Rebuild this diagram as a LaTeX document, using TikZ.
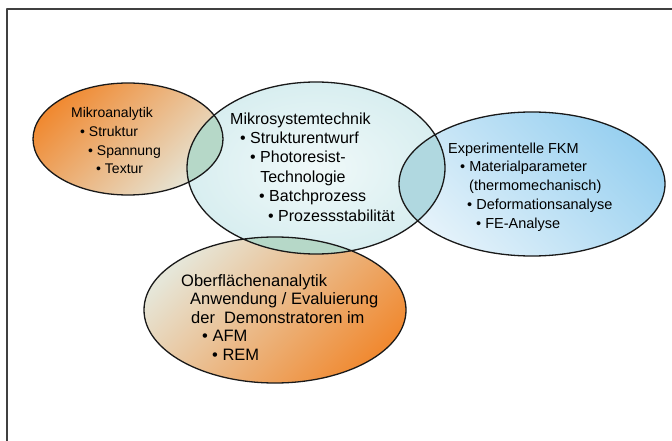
\documentclass[tikz,border=0pt]{standalone}
\usepackage{fontspec}
\setmainfont{Liberation Sans}

\definecolor{orangedeep}{HTML}{F08A32}
\definecolor{orangepale}{HTML}{E6E6D8}
\definecolor{mstpale}{HTML}{D8EEF0}
\definecolor{mstlight}{HTML}{F0F9F9}
\definecolor{fkmblue}{HTML}{98D0F0}
\definecolor{fkmpale}{HTML}{E4F2FA}
\definecolor{lensgreen}{HTML}{B6D8C8}
\definecolor{lensblue}{HTML}{B0D8E0}
\definecolor{framegray}{HTML}{404040}

\begin{document}
\begin{tikzpicture}[x=1pt,y=-1pt,line join=round]
\tikzset{
  ring/.style={draw=black!90, line width=1.3pt},
  lbl/.style={anchor=base west, align=left, inner sep=0pt},
}
\useasboundingbox (0,0) rectangle (672,441);
% frame, only left and top edge show
\draw[framegray, line width=1.5pt] (7,441) |- (672,9);

% fills
\shade[top color=orangedeep, bottom color=orangepale, shading angle=45]
  (128,139) ellipse [x radius=95, y radius=56];
\shade[inner color=mstlight, outer color=mstpale]
  (316,168) ellipse [x radius=129, y radius=86];
\shade[top color=fkmblue, bottom color=fkmpale, shading angle=-45]
  (532,184) ellipse [x radius=133, y radius=72];
\shade[top color=orangepale, bottom color=orangedeep, shading angle=45]
  (275,310) ellipse [x radius=131, y radius=73];

% overlaps
\begin{scope}
  \clip (128,139) ellipse [x radius=95, y radius=56];
  \fill[lensgreen] (316,168) ellipse [x radius=129, y radius=86];
\end{scope}
\begin{scope}
  \clip (532,184) ellipse [x radius=133, y radius=72];
  \fill[lensblue] (316,168) ellipse [x radius=129, y radius=86];
\end{scope}
\begin{scope}
  \clip (275,310) ellipse [x radius=131, y radius=73];
  \fill[lensgreen] (316,168) ellipse [x radius=129, y radius=86];
\end{scope}

% outlines
\draw[ring] (128,139) ellipse [x radius=95, y radius=56]
  (316,168) ellipse [x radius=129, y radius=86]
  (532,184) ellipse [x radius=133, y radius=72]
  (275,310) ellipse [x radius=131, y radius=73];

% labels (base = baseline of the last line)
\node[lbl, font=\fontsize{14}{18.7}\selectfont] (mikrotext) at (71,174)
  {Mikroanalytik\\
   \hspace*{9pt}• Struktur\\
   \hspace*{17pt}• Spannung\\
   \hspace*{25pt}• Textur};
\node[lbl, font=\fontsize{16}{19.4}\selectfont] (msttext) at (230,221)
  {Mikrosystemtechnik\\
   \hspace*{10pt}• Strukturentwurf\\
   \hspace*{20pt}• Photoresist-\\
   \hspace*{20pt}\phantom{•\ }Technologie\\
   \hspace*{29pt}• Batchprozess\\
   \hspace*{38pt}• Prozessstabilität};
\node[lbl, font=\fontsize{14.5}{18.7}\selectfont] (fkmtext) at (448,228)
  {Experimentelle FKM\\
   \hspace*{12pt}• Materialparameter\\
   \hspace*{21pt}(thermomechanisch)\\
   \hspace*{19pt}• Deformationsanalyse\\
   \hspace*{28pt}• FE-Analyse};
\node[lbl, font=\fontsize{16.5}{18.5}\selectfont] (ofatext) at (181,360)
  {Oberflächenanalytik\\
   \hspace*{9pt}Anwendung / Evaluierung\\
   \hspace*{10pt}der\ \ Demonstratoren im\\
   \hspace*{21pt}• AFM\\
   \hspace*{31pt}• REM};
\end{tikzpicture}
\end{document}
